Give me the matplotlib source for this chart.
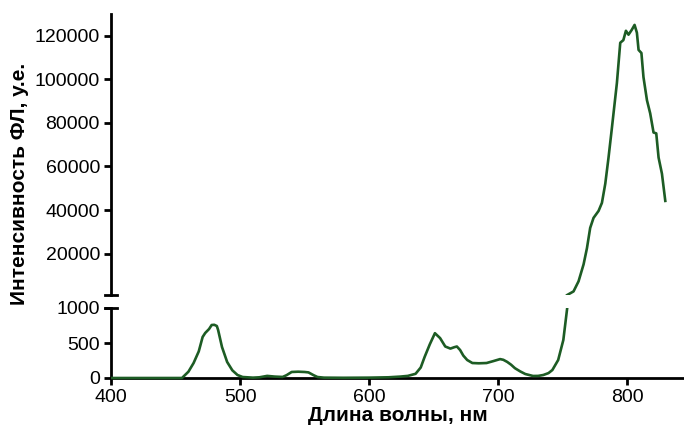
import numpy as np
import matplotlib.pyplot as plt
from matplotlib.patches import Rectangle

plt.rcParams['font.family'] = ['Liberation Sans', 'DejaVu Sans']

# спектр флуоресценции (длина волны, нм -> интенсивность, у.е.)
wavelength = [400, 455, 460, 464, 468, 471, 473, 476, 478, 480, 482, 483, 486, 490, 494,
              498, 502, 510, 515, 521, 527, 533, 536, 540, 545, 550, 553, 557, 560, 565,
              580, 600, 615, 624, 630, 636, 640, 643, 647, 651, 655, 659, 663, 666, 668,
              670.5, 673, 676, 680, 685, 691, 696, 701.5, 704, 707, 710, 713, 717, 721, 727,
              731, 735, 739, 742, 746.5, 750.5, 753.5, 758.4, 762.3, 766.2, 768.8, 771.3,
              773.9, 777.8, 780.4, 783, 785.5, 788, 792, 794.6, 797, 799, 801, 803.6, 805.7,
              807.5, 808.8, 811, 812.6, 815.3, 817.8, 820.4, 822.5, 824.3, 826.9, 829.5]
intensity = [0, 0, 90, 214, 380, 586, 643, 700, 757, 760, 743, 686, 443, 229, 110,
             43, 14, 5, 10, 30, 20, 15, 40, 86, 90, 86, 80, 40, 14, 5,
             3, 5, 10, 20, 30, 60, 150, 300, 480, 640, 570, 450, 420, 440, 450,
             400, 320, 257, 214, 210, 214, 240, 270, 260, 230, 190, 140, 95, 57, 29,
             30, 43, 70, 114, 257, 543, 1000, 2650, 7300, 15100, 22500, 31800,
             36400, 39600, 43300, 52100, 64000, 77000, 98300, 116800, 118000, 122300, 120500, 122800, 125000,
             121400, 113500, 112100, 101000, 90400, 84400, 75600, 75200, 64100, 56700, 44200]

x_ticks = [400, 500, 600, 700, 800]
low_ticks = [0, 500, 1000]
high_ticks = [20000, 40000, 60000, 80000, 100000, 120000]

line_color = '#1d5c24'

wl = np.array(wavelength)
inten = np.array(intensity, dtype=float)
# верхняя панель: только значения от 1000 и выше
inten_high = np.where(inten >= 1000, inten, np.nan)

fig = plt.figure(figsize=(6.84, 4.25), dpi=100)
W, H = 684, 425
ax_low = fig.add_axes([111 / W, 1 - 378 / H, 573 / W, 70 / H])
ax_high = fig.add_axes([111 / W, 1 - 295 / H, 573 / W, 281 / H])

line, = ax_low.plot(wl, inten, color=line_color, lw=1.9, zorder=3)
# нулевой участок спектра ложится поверх оси x
line.set_clip_path(Rectangle((0, -0.1), 1, 1.1, transform=ax_low.transAxes))
ax_high.plot(wl, inten_high, color=line_color, lw=1.9, zorder=3)

for ax in (ax_low, ax_high):
    ax.set_xlim(400, 844)
    for side in ('top', 'right'):
        ax.spines[side].set_visible(False)
    ax.spines['left'].set_linewidth(2)
    ax.spines['bottom'].set_linewidth(2)
    ax.tick_params(width=2, length=5, labelsize=14, pad=3, color='black')

ax_low.set_ylim(0, 1000)
ax_low.set_yticks(low_ticks)
ax_low.set_xticks(x_ticks)
ax_low.set_xlabel('Длина волны, нм', fontsize=15, fontweight='bold', labelpad=0)

ax_high.set_ylim(1000, 130000)
ax_high.set_yticks(high_ticks)
ax_high.spines['bottom'].set_visible(False)
ax_high.tick_params(axis='x', bottom=False, labelbottom=False)

# метки разрыва оси
for ax, yb in ((ax_high, 0), (ax_low, 1)):
    ax.plot([-0.011, 0.011], [yb, yb], transform=ax.transAxes, color='black',
            lw=2, clip_on=False, zorder=4)

fig.text(20 / W, 1 - 184 / H, 'Интенсивность ФЛ, у.е.', rotation=90, fontsize=15,
         fontweight='bold', ha='center', va='center')

fig.savefig('out.png', dpi=100)
